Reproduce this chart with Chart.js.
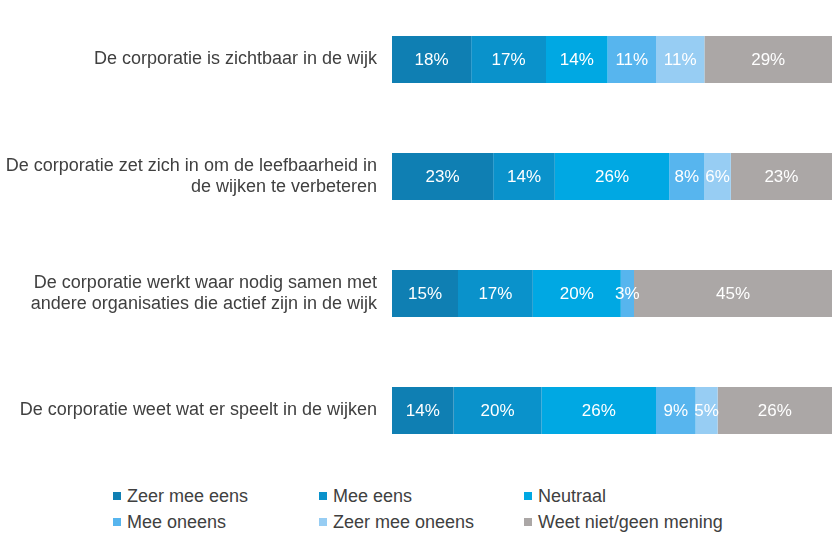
<!DOCTYPE html>
<html>
<head>
<meta charset="utf-8">
<script src="https://cdn.jsdelivr.net/npm/chart.js@4/dist/chart.umd.min.js"></script>
<style>
  html, body { margin: 0; padding: 0; background: #ffffff; }
  body { width: 832px; height: 543px; position: relative; overflow: hidden; font-family: "Liberation Sans", Arial, sans-serif; }
  #wrap { position: absolute; left: 0; top: 0; width: 832px; height: 470px; }
  .leg { position: absolute; font-size: 18px; color: #404040; line-height: 20px; white-space: nowrap; }
  .leg .sw { position: absolute; left: 0; top: 6px; width: 8px; height: 8px; }
  .leg .tx { position: absolute; left: 14px; top: 0; }
</style>
</head>
<body>
<div id="wrap"><canvas id="c"></canvas></div>
<div id="legend"></div>
<script>
const categories = [
  "De corporatie is zichtbaar in de wijk",
  ["De corporatie zet zich in om de leefbaarheid in", "de wijken te verbeteren"],
  ["De corporatie werkt waar nodig samen met", "andere organisaties die actief zijn in de wijk"],
  "De corporatie weet wat er speelt in de wijken"
];
const seriesNames = ["Zeer mee eens", "Mee eens", "Neutraal", "Mee oneens", "Zeer mee oneens", "Weet niet/geen mening"];
const zeerMeeEens    = [18, 23, 15, 14];
const meeEens        = [17, 14, 17, 20];
const neutraal       = [14, 26, 20, 26];
const meeOneens      = [11,  8,  3,  9];
const zeerMeeOneens  = [11,  6,  0,  5];
const weetNiet       = [29, 23, 45, 26];
const seriesColors = ["#0f7fb3", "#0a92cb", "#00a8e3", "#57b5ee", "#97cdf3", "#aba7a6"];
const seriesValues = [zeerMeeEens, meeEens, neutraal, meeOneens, zeerMeeOneens, weetNiet];

const datasets = seriesNames.map((name, i) => ({
  label: name,
  data: seriesValues[i],
  backgroundColor: seriesColors[i],
  borderWidth: 0,
  categoryPercentage: 1,
  barPercentage: 0.4017
}));

const barLabels = {
  id: 'barLabels',
  afterDatasetsDraw(chart) {
    const ctx = chart.ctx;
    ctx.save();
    ctx.font = '17px "Liberation Sans", Arial, sans-serif';
    ctx.fillStyle = '#ffffff';
    ctx.textAlign = 'center';
    ctx.textBaseline = 'middle';
    chart.data.datasets.forEach((ds, di) => {
      const meta = chart.getDatasetMeta(di);
      meta.data.forEach((el, idx) => {
        const v = ds.data[idx];
        if (!v) return;
        const p = el.getCenterPoint();
        ctx.fillText(v + '%', p.x, p.y + 1);
      });
    });
    ctx.restore();
  }
};

new Chart(document.getElementById('c'), {
  type: 'bar',
  data: { labels: categories, datasets },
  options: {
    indexAxis: 'y',
    responsive: true,
    maintainAspectRatio: false,
    animation: false,
    layout: { padding: { top: 1, bottom: 1, left: 0, right: 0 } },
    plugins: { legend: { display: false }, tooltip: { enabled: false } },
    scales: {
      x: { stacked: true, min: 0, max: 100, display: false },
      y: {
        stacked: true,
        grid: { display: false, drawTicks: false },
        border: { display: false },
        ticks: {
          color: '#404040',
          padding: 15,
          font: { family: '"Liberation Sans", Arial, sans-serif', size: 18 }
        },
        afterFit(scale) {
          scale.width = 392;
          scale.paddingTop = 0;
          scale.paddingBottom = 0;
        }
      }
    }
  },
  plugins: [barLabels]
});

// legend (3 columns x 2 rows)
const legendCols = [113, 319, 524];
const legendRows = [486, 512];
const legendEl = document.getElementById('legend');
seriesNames.forEach((name, i) => {
  const d = document.createElement('div');
  d.className = 'leg';
  d.style.left = legendCols[i % 3] + 'px';
  d.style.top = legendRows[Math.floor(i / 3)] + 'px';
  d.innerHTML = '<span class="sw" style="background:' + seriesColors[i] + '"></span><span class="tx"></span>';
  d.querySelector('.tx').textContent = name;
  legendEl.appendChild(d);
});
</script>
</body>
</html>
